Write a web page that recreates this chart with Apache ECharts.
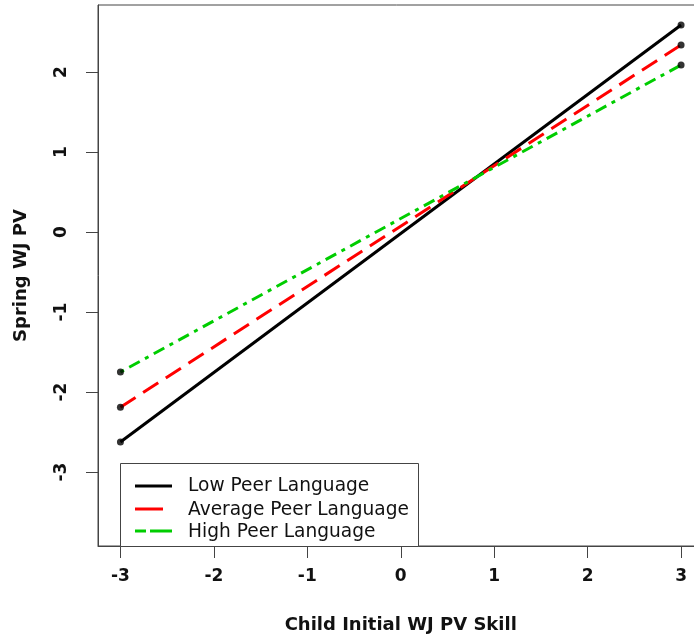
<!DOCTYPE html>
<html>
<head>
<meta charset="utf-8">
<script src="https://cdn.jsdelivr.net/npm/echarts@6/dist/echarts.min.js"></script>
<style>html,body{margin:0;padding:0;background:#fff;}#chart{width:694px;height:637px;}</style>
</head>
<body>
<div id="chart"></div>
<script>
var xVals = [-3, 3];
var lowPeer = [-2.625, 2.59];
var avgPeer = [-2.19, 2.34];
var highPeer = [-1.75, 2.09];
var seriesNames = ['Low Peer Language', 'Average Peer Language', 'High Peer Language'];
var xTicks = [-3, -2, -1, 0, 1, 2, 3];
var yTicks = [-3, -2, -1, 0, 1, 2];

function pairs(ys) { return xVals.map(function (x, i) { return [x, ys[i]]; }); }
var allPts = [].concat(pairs(lowPeer), pairs(avgPeer), pairs(highPeer));

var chart = echarts.init(document.getElementById('chart'));
var FONT = 'DejaVu Sans';
var option = {
  animation: false,
  backgroundColor: '#fff',
  grid: { left: 98, top: 5, width: 605.5, height: 541, show: true, borderColor: '#444', borderWidth: 1, backgroundColor: 'transparent', outerBoundsMode: 'none', containLabel: false },
  xAxis: {
    type: 'value', min: -3.24, max: 3.24,
    name: 'Child Initial WJ PV Skill', nameLocation: 'middle', nameGap: 70,
    nameTextStyle: { fontFamily: FONT, fontWeight: 'bold', fontSize: 18, color: '#111' },
    axisLine: { show: true, onZero: false, lineStyle: { color: '#444', width: 1 } },
    axisTick: { show: true, length: 12, customValues: xTicks, lineStyle: { color: '#444' } },
    axisLabel: { customValues: xTicks, margin: 22, fontFamily: FONT, fontWeight: 'bold', fontSize: 17, color: '#111' },
    splitLine: { show: false }
  },
  yAxis: {
    type: 'value', min: -3.925, max: 2.84,
    name: 'Spring WJ PV', nameLocation: 'middle', nameGap: 68, nameRotate: 90,
    nameTextStyle: { fontFamily: FONT, fontWeight: 'bold', fontSize: 18, color: '#111' },
    axisLine: { show: true, onZero: false, lineStyle: { color: '#444', width: 1 } },
    axisTick: { show: true, length: 12, customValues: yTicks, lineStyle: { color: '#444' } },
    axisLabel: { customValues: yTicks, rotate: 90, margin: 28, fontFamily: FONT, fontWeight: 'bold', fontSize: 17, color: '#111' },
    splitLine: { show: false }
  },
  series: [
    { name: seriesNames[0], type: 'line', data: pairs(lowPeer), symbol: 'none', lineStyle: { color: '#000', width: 3, type: 'solid' }, z: 3 },
    { name: seriesNames[1], type: 'line', data: pairs(avgPeer), symbol: 'none', lineStyle: { color: '#ff0000', width: 3, type: [18, 9] }, z: 3 },
    { name: seriesNames[2], type: 'line', data: pairs(highPeer), symbol: 'none', lineStyle: { color: '#00cd00', width: 3, type: [4, 6, 12, 6] }, z: 3 },
    { type: 'scatter', data: allPts, symbol: 'circle', symbolSize: 7, itemStyle: { color: '#000' }, z: 4 }
  ],
  graphic: [
    { type: 'rect', left: 120, top: 463, shape: { width: 298, height: 83 }, style: { fill: '#fff', stroke: '#444', lineWidth: 1 }, z: 10 },
    { type: 'line', shape: { x1: 135, y1: 486, x2: 172, y2: 486 }, style: { stroke: '#000', lineWidth: 3 }, z: 11 },
    { type: 'line', shape: { x1: 135, y1: 509, x2: 172, y2: 509 }, style: { stroke: '#ff0000', lineWidth: 3, lineDash: [28, 9] }, z: 11 },
    { type: 'line', shape: { x1: 135, y1: 531, x2: 172, y2: 531 }, style: { stroke: '#00cd00', lineWidth: 3, lineDash: [11, 4, 22, 4] }, z: 11 },
    { type: 'text', left: 188, top: 477, style: { text: seriesNames[0], font: '18.6px DejaVu Sans', fill: '#111' }, z: 11 },
    { type: 'text', left: 188, top: 500.5, style: { text: seriesNames[1], font: '18.6px DejaVu Sans', fill: '#111' }, z: 11 },
    { type: 'text', left: 188, top: 522.5, style: { text: seriesNames[2], font: '18.6px DejaVu Sans', fill: '#111' }, z: 11 }
  ]
};
chart.setOption(option);
</script>
</body>
</html>
